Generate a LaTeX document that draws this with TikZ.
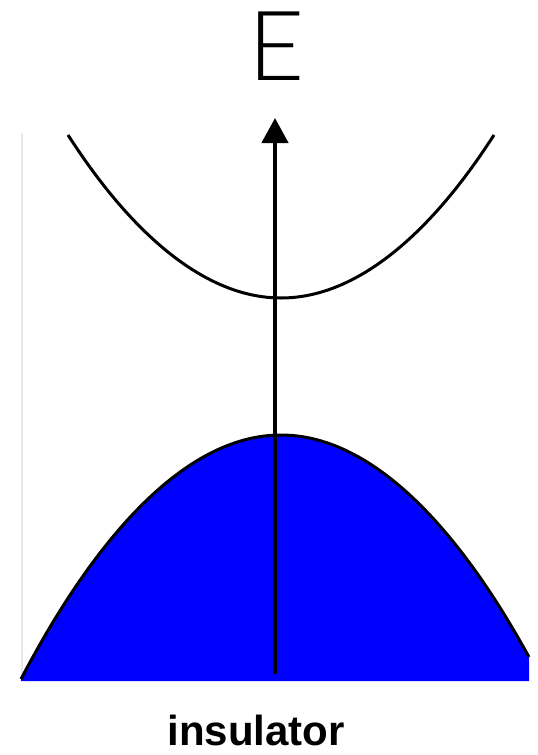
\documentclass[tikz,border=0pt]{standalone}
\usepackage{fontspec}
\setmainfont{Liberation Sans}
\IfFontExistsTF{Lato Light}{\newfontfamily\efont{Lato Light}}{%
  \IfFontExistsTF{Open Sans Light}{\newfontfamily\efont{Open Sans Light}}{%
    \newfontfamily\efont{Liberation Sans}}}
\usetikzlibrary{arrows.meta}
\definecolor{bandblue}{RGB}{0,0,255}
\definecolor{axisgray}{RGB}{232,232,232}
\tikzset{
  band/.style={line width=3pt, black},
  energyaxis/.style={line width=4.5pt, -{Triangle[length=25pt,width=26pt]}},
}
\begin{document}
\begin{tikzpicture}[x=1pt,y=-1pt]
\useasboundingbox (0,0) rectangle (538,755);
% faint left edge
\draw[axisgray, line width=1.5pt] (22,133) -- (22,680);
% valence band fill
\fill[bandblue] (21,679) parabola bend (281,435) (529,657) -- (529,681) -- (21,681) -- cycle;
\draw[band] (21,679) parabola bend (281,435) (529,657);
% conduction band
\draw[band] (68,135) parabola bend (281,298) (494,135);
% energy axis
\coordinate (axisbottom) at (275,674);
\coordinate (axistop) at (275,118);
\draw[energyaxis] (axisbottom) -- (axistop);
% labels
\node[anchor=base, inner sep=0pt, font=\efont\fontsize{97}{97}\selectfont] (elabel) at (277,80) {E};
\node[anchor=base, inner sep=0pt, font=\bfseries\fontsize{42}{42}\selectfont] (ins) at (256,745) {insulator};
\end{tikzpicture}
\end{document}
